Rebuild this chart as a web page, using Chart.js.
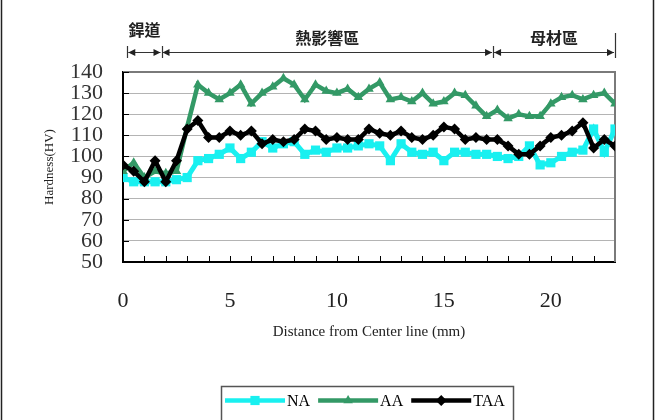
<!DOCTYPE html>
<html>
<head>
	<meta charset="utf-8">
	<title>Hardness(HV)</title>
	<script src="https://cdn.jsdelivr.net/npm/chart.js@4.4.1/dist/chart.umd.min.js"></script>
	<style type="text/css">
		html, body { margin: 0; padding: 0; background: #fff; }
		#wrap { width: 656px; height: 420px; position: relative; }
	</style>
</head>
<body>
	<div id="wrap"><canvas id="hv" width="656" height="420"></canvas></div>
	<script type="text/javascript">
	var distance = [0, 0.5, 1, 1.5, 2, 2.5, 3, 3.5, 4, 4.5, 5, 5.5, 6, 6.5, 7, 7.5, 8, 8.5, 9, 9.5, 10, 10.5, 11, 11.5, 12, 12.5, 13, 13.5, 14, 14.5, 15, 15.5, 16, 16.5, 17, 17.5, 18, 18.5, 19, 19.5, 20, 20.5, 21, 21.5, 22, 22.5, 23];
	var na  = [90, 88, 88, 88, 88, 89, 90, 98, 99, 101, 104, 99, 102, 107, 104, 106, 107, 101, 103, 102, 104, 104, 105, 106, 105, 98, 106, 102, 101, 102, 98, 102, 102, 101, 101, 100, 99, 100, 105, 96, 97, 100, 102, 103, 113, 102, 113];
	var aa  = [93, 97, 90, 93, 92, 93, 114, 134, 130, 127, 130, 134, 125, 130, 133, 137, 134, 127, 134, 131, 130, 132, 128, 132, 135, 127, 128, 126, 130, 125, 126, 130, 129, 124, 119, 122, 118, 120, 119, 119, 125, 128, 129, 127, 129, 130, 125];
	var taa = [96, 93, 88, 98, 88, 98, 113, 117, 109, 109, 112, 110, 112, 106, 108, 107, 108, 113, 112, 108, 109, 108, 108, 113, 111, 110, 112, 109, 108, 110, 114, 113, 108, 109, 108, 108, 105, 101, 101, 105, 109, 110, 112, 116, 104, 108, 105];
	var seriesNames = ["NA", "AA", "TAA"];
	var xLabels = [0, 5, 10, 15, 20];
	var yTicks = [50, 60, 70, 80, 90, 100, 110, 120, 130, 140];
	// 銲道 / 熱影響區 / 母材區 zone borders along the distance axis
	var zoneNames = ["銲道", "熱影響區", "母材區"];
	var zoneEdges = [0.2, 1.8, 17.3, 23];

	var serif = "'Liberation Serif', 'Times New Roman', serif";
	var cjk = "'Noto Sans CJK TC', 'Noto Sans CJK SC', sans-serif";
	var colors = ["#19F0F0", "#339966", "#000000"];
	var shapes = ["rect", "triangle", "rectRot"];

	function pairs(ys) {
		return ys.map(function(v, i){ return {x: distance[i], y: v}; });
	}

	function markerPath(ctx, shape, x, y, r) {
		ctx.beginPath();
		if (shape === "rect") {
			var s = r * Math.SQRT1_2;
			ctx.rect(x - s, y - s, 2 * s, 2 * s);
		} else if (shape === "triangle") {
			ctx.moveTo(x, y - r);
			ctx.lineTo(x + r * 0.87, y + r * 0.5);
			ctx.lineTo(x - r * 0.87, y + r * 0.5);
			ctx.closePath();
		} else {
			ctx.moveTo(x, y - r);
			ctx.lineTo(x + r, y);
			ctx.lineTo(x, y + r);
			ctx.lineTo(x - r, y);
			ctx.closePath();
		}
		ctx.fill();
	}

	var decor = {
		id: "decor",
		beforeDraw: function(chart) {
			var ctx = chart.ctx;
			ctx.save();
			ctx.fillStyle = "#fff";
			ctx.fillRect(0, 0, chart.width, chart.height);
			ctx.strokeStyle = "#222";
			ctx.lineWidth = 1.5;
			ctx.beginPath();
			ctx.moveTo(1.5, 0); ctx.lineTo(1.5, chart.height);
			ctx.moveTo(653.5, 0); ctx.lineTo(653.5, chart.height);
			ctx.stroke();
			ctx.restore();
		},
		beforeDatasetsDraw: function(chart) {
			var ctx = chart.ctx, a = chart.chartArea;
			var xs = chart.scales.x, ys = chart.scales.y;
			ctx.save();
			// top and right frame
			ctx.strokeStyle = "#7a7a7a";
			ctx.lineWidth = 2;
			ctx.beginPath();
			ctx.moveTo(a.left, a.top); ctx.lineTo(a.right, a.top); ctx.lineTo(a.right, a.bottom);
			ctx.stroke();
			// inner tick marks
			ctx.strokeStyle = "#000";
			ctx.lineWidth = 1;
			ctx.beginPath();
			for (var d = 1; d < 23; d++) {
				var px = Math.round(xs.getPixelForValue(d)) + 0.5;
				ctx.moveTo(px, a.bottom); ctx.lineTo(px, a.bottom - 6);
			}
			yTicks.forEach(function(v){
				var py = Math.round(ys.getPixelForValue(v)) + 0.5;
				ctx.moveTo(a.left, py); ctx.lineTo(a.left + 6, py);
			});
			ctx.stroke();
			ctx.restore();
		},
		afterDraw: function(chart) {
			var ctx = chart.ctx;
			var xs = chart.scales.x;
			ctx.save();
			// zone arrows above the plot
			var ay = 52.5;
			var px = zoneEdges.map(function(e){ return xs.getPixelForValue(e); });
			ctx.strokeStyle = "#333";
			ctx.fillStyle = "#222";
			ctx.lineWidth = 1.2;
			for (var i = 0; i < zoneNames.length; i++) {
				var x0 = px[i] + 1, x1 = px[i + 1] - 1;
				ctx.beginPath();
				ctx.moveTo(x0, ay); ctx.lineTo(x1, ay);
				ctx.stroke();
				ctx.beginPath();
				ctx.moveTo(x0, ay); ctx.lineTo(x0 + 7, ay - 3.5); ctx.lineTo(x0 + 7, ay + 3.5); ctx.closePath();
				ctx.moveTo(x1, ay); ctx.lineTo(x1 - 7, ay - 3.5); ctx.lineTo(x1 - 7, ay + 3.5); ctx.closePath();
				ctx.fill();
			}
			ctx.beginPath();
			px.forEach(function(p, k){
				var top = k === px.length - 1 ? 33 : 46;
				ctx.moveTo(Math.round(p) + 0.5, top); ctx.lineTo(Math.round(p) + 0.5, 58);
			});
			ctx.stroke();
			ctx.fillStyle = "#222";
			ctx.font = "bold 16px " + cjk;
			ctx.textAlign = "center";
			ctx.textBaseline = "middle";
			for (var j = 0; j < zoneNames.length; j++) {
				var cx = (px[j] + px[j + 1]) / 2;
				ctx.fillText(zoneNames[j], cx, j === 0 ? 30 : 38);
			}

			// legend box
			ctx.strokeStyle = "#555";
			ctx.lineWidth = 1.5;
			ctx.strokeRect(221.5, 386.5, 292, 40);
			ctx.font = "16px " + serif;
			ctx.textAlign = "left";
			var lx = 225, ly = 400.5;
			seriesNames.forEach(function(name, k){
				ctx.strokeStyle = colors[k];
				ctx.fillStyle = colors[k];
				ctx.lineWidth = 4.5;
				ctx.beginPath();
				ctx.moveTo(lx, ly); ctx.lineTo(lx + 60, ly);
				ctx.stroke();
				markerPath(ctx, shapes[k], lx + 30, ly, k === 0 ? 6.5 : 5.5);
				ctx.fillStyle = "#000";
				ctx.fillText(name, lx + 62, ly + 1);
				lx += 62 + ctx.measureText(name).width + 8;
			});
			ctx.restore();
		}
	};

	var ctx = document.getElementById("hv");
	var sets = [na, aa, taa].map(function(ys, k){
		return {
			label: seriesNames[k],
			data: pairs(ys),
			borderColor: colors[k],
			backgroundColor: colors[k],
			borderWidth: k === 0 ? 5 : 4.5,
			pointStyle: shapes[k],
			pointRadius: k === 0 ? 6.5 : 5.5,
			pointBorderWidth: 0,
			tension: 0,
			order: 3 - k
		};
	});

	new Chart(ctx, {
		type: "line",
		data: { datasets: sets },
		options: {
			responsive: false,
			animation: false,
			events: [],
			layout: { padding: { top: 72, left: 0, right: 41, bottom: 73 } },
			plugins: { legend: { display: false }, tooltip: { enabled: false } },
			scales: {
				x: {
					type: "linear",
					min: 0,
					max: 23,
					grid: { display: false, drawTicks: false },
					border: { display: true, color: "#000", width: 2 },
					ticks: {
						stepSize: 1,
						autoSkip: false,
						maxRotation: 0,
						padding: 26,
						color: "#222",
						font: { family: serif, size: 22 },
						callback: function(v){ return xLabels.indexOf(v) >= 0 ? String(v) : ""; }
					},
					title: { display: true, text: "Distance from Center line (mm)", color: "#222", font: { family: serif, size: 15 }, padding: { top: 0, bottom: 6 } },
					afterFit: function(s){ s.height = 85; }
				},
				y: {
					min: 50,
					max: 140,
					grid: { color: "#b4b4b4", lineWidth: 1, drawTicks: false },
					border: { display: true, color: "#000", width: 2 },
					ticks: {
						stepSize: 10,
						autoSkip: false,
						padding: 20,
						color: "#333",
						font: { family: serif, size: 22, lineHeight: 1 }
					},
					title: { display: true, text: "Hardness(HV)", color: "#222", font: { family: serif, size: 13 }, padding: { top: 42, bottom: 0 } },
					afterFit: function(s){ s.width = 123; }
				}
			}
		},
		plugins: [decor]
	});
	</script>
</body>
</html>
